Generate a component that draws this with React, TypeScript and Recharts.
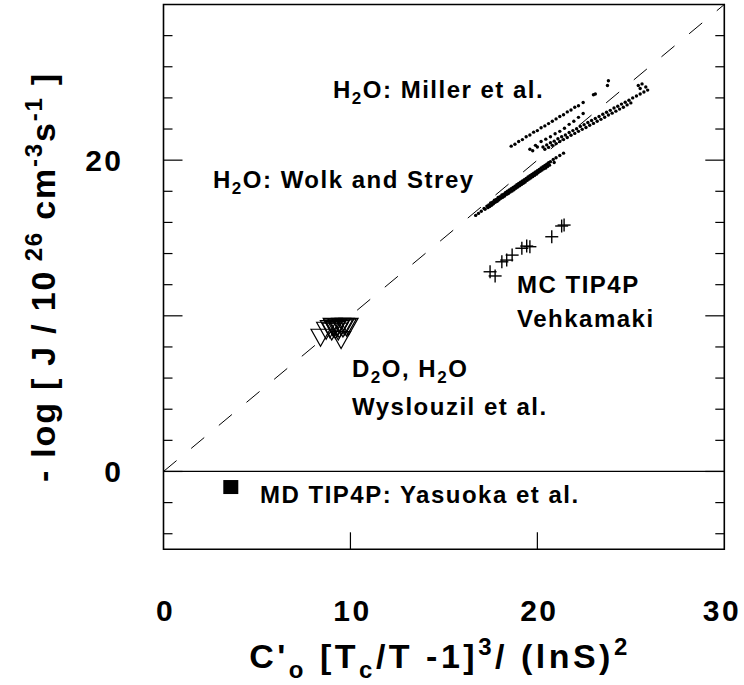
import React from 'react';
import { ScatterChart, Scatter, XAxis, YAxis, ReferenceLine, ReferenceArea } from 'recharts';

const FONT = '"Liberation Sans", Arial, Helvetica, sans-serif';

const xTicks = [0, 10, 20, 30];
const xTickLines = [10, 20];
const yTicks = [-4, -2, 0, 2, 4, 6, 8, 10, 12, 14, 16, 18, 20, 22, 24, 26, 28];
const yTickLabels = [0, 20];

// H2O: Miller et al. (three bands of small dots)
const millerUpper: [number, number][] = [
  [18.6, 20.9], [18.8, 21.02], [19.0, 21.2], [19.2, 21.32], [19.4, 21.5], [19.6, 21.62],
  [19.8, 21.8], [20.0, 21.9], [20.2, 22.08], [20.4, 22.2], [20.6, 22.35], [20.8, 22.5],
  [21.0, 22.65], [21.2, 22.8], [21.4, 22.92], [21.6, 23.1], [21.8, 23.22], [22.0, 23.4],
  [22.2, 23.5], [22.45, 23.7], [23.0, 24.2], [23.1, 24.25], [23.75, 24.8], [23.8, 25.1],
];
const millerMiddle: [number, number][] = [
  [19.6, 20.7], [19.75, 20.6], [19.9, 20.95], [20.0, 20.85], [20.2, 21.2], [20.45, 21.35],
  [20.7, 21.5], [20.95, 21.7], [21.2, 21.85], [21.45, 22.05], [21.7, 22.3], [21.95, 22.5],
  [22.2, 22.75], [22.45, 23.0],
];
const millerLower: [number, number][] = [
  [20.3, 20.85], [20.5, 20.98], [20.7, 21.12], [20.9, 21.22], [21.1, 21.38], [21.3, 21.5],
  [21.5, 21.62], [21.7, 21.78], [21.9, 21.9], [22.1, 22.02], [22.3, 22.17], [22.5, 22.28],
  [22.7, 22.42], [22.9, 22.55], [23.1, 22.68], [23.3, 22.8], [23.5, 22.95], [23.7, 23.08],
  [23.9, 23.2], [24.1, 23.35], [24.3, 23.46], [24.5, 23.6], [24.7, 23.72], [24.9, 23.85],
  [25.1, 24.0], [25.3, 24.12], [25.5, 24.25], [25.7, 24.38], [25.9, 24.5],
  [20.4, 20.7], [20.6, 20.82], [20.8, 20.95], [21.0, 21.06], [21.2, 21.2], [21.4, 21.32],
  [21.6, 21.46], [21.8, 21.6], [22.0, 21.72], [22.2, 21.85], [22.4, 21.98], [22.6, 22.1],
  [22.8, 22.24], [23.0, 22.36], [23.2, 22.5], [23.4, 22.62], [23.6, 22.76], [23.8, 22.9],
  [24.0, 23.02], [24.2, 23.15], [24.4, 23.28], [24.6, 23.4], [24.8, 23.55], [25.0, 23.68],
  [25.4, 24.8], [25.5, 24.6], [25.6, 24.9], [25.8, 24.7],
];

// H2O: Wolk and Strey
const wolkStrey: [number, number][] = [
  [16.7, 16.45], [16.85, 16.58], [17.0, 16.72], [17.15, 16.9], [17.3, 17.05], [17.4, 17.12],
  [17.5, 17.25], [17.6, 17.3], [17.7, 17.42], [17.8, 17.48], [17.9, 17.6], [18.0, 17.66],
  [18.1, 17.76], [18.2, 17.82], [18.3, 17.92], [18.4, 18.0], [18.5, 18.08], [18.6, 18.16],
  [18.7, 18.25], [18.8, 18.33], [18.9, 18.42], [19.0, 18.5], [19.1, 18.58], [19.2, 18.66],
  [19.3, 18.75], [19.4, 18.82], [19.5, 18.92], [19.6, 19.0], [19.7, 19.08], [19.8, 19.16],
  [19.9, 19.24], [20.0, 19.32], [20.1, 19.4], [20.2, 19.5], [20.3, 19.58], [20.4, 19.66],
  [20.5, 19.74], [20.6, 19.84], [20.7, 19.9], [20.85, 20.05], [21.0, 20.15], [21.2, 20.3],
  [21.4, 20.45],
  [17.2, 16.85], [17.35, 16.95], [17.45, 17.02], [17.55, 17.1], [17.65, 17.2], [17.75, 17.3],
  [17.85, 17.36], [17.95, 17.45], [18.05, 17.55], [18.15, 17.62], [18.25, 17.7], [18.35, 17.8],
  [18.45, 17.86], [18.55, 17.95], [18.65, 18.02], [18.75, 18.1], [18.85, 18.2], [18.95, 18.28],
  [19.05, 18.36], [19.15, 18.44], [19.25, 18.52], [19.35, 18.6], [19.45, 18.7], [19.55, 18.78],
  [19.65, 18.86], [19.75, 18.94], [19.85, 19.02], [19.95, 19.1], [20.05, 19.2], [20.15, 19.28],
  [20.25, 19.36], [20.35, 19.44], [20.45, 19.5], [20.55, 19.6], [20.65, 19.68], [20.9, 19.85],
];

// MC TIP4P Vehkamaki
const vehkamaki: [number, number][] = [
  [17.47, 12.83], [17.74, 12.56], [18.1, 13.47], [18.36, 13.58], [18.65, 13.9], [19.17, 14.34],
  [19.43, 14.48], [19.6, 14.44], [20.77, 15.08], [21.3, 15.77], [21.43, 15.83],
];

// D2O, H2O Wyslouzil et al.
const wyslouzil: [number, number][] = [
  [8.4, 8.75], [9.5, 8.6], [8.7, 9.2], [8.9, 9.3], [9.0, 9.15], [9.1, 9.35], [9.2, 9.25],
  [9.3, 9.4], [9.4, 9.3], [9.5, 9.45], [9.6, 9.35], [9.7, 9.45], [9.8, 9.4], [9.9, 9.45],
  [9.05, 9.45], [9.35, 9.15],
];

// MD TIP4P: Yasuoka et al.
const yasuoka: [number, number][] = [[3.6, -1.0]];

const toPoints = (arr: [number, number][]) => arr.map(([x, y]) => ({ x, y }));

const CHART_W = 744;
const CHART_H = 685;
const PLOT_W = 560.8;

const Dot = (props: any) => <circle cx={props.cx} cy={props.cy} r={1.7} fill="#000" />;

const Cross = (props: any) => {
  const { cx, cy } = props;
  const s = 6.5;
  return (
    <g stroke="#000" strokeWidth={1.4}>
      <line x1={cx - s} x2={cx + s} y1={cy} y2={cy} />
      <line x1={cx} x2={cx} y1={cy - s} y2={cy + s} />
    </g>
  );
};

const DownTriangle = (props: any) => {
  const { cx, cy } = props;
  const pts = `${cx - 9.5},${cy - 6} ${cx + 9.5},${cy - 6} ${cx},${cy + 11}`;
  return <polygon points={pts} fill="none" stroke="#000" strokeWidth={1.2} />;
};

const Square = (props: any) => {
  const { cx, cy } = props;
  return <rect x={cx - 7.5} y={cy - 7} width={15} height={14} fill="#000" />;
};

const YTick = (props: any) => {
  const { x, y, payload } = props;
  const v = payload.value;
  const len = v % 10 === 0 ? 19 : 9;
  return (
    <g>
      <line x1={x} x2={x + len} y1={y} y2={y} stroke="#000" strokeWidth={1.2} />
      <line x1={x + PLOT_W} x2={x + PLOT_W - len} y1={y} y2={y} stroke="#000" strokeWidth={1.2} />
      {yTickLabels.includes(v) && (
        <text x={x - 40} y={y + 11} textAnchor="end" fontFamily={FONT} fontWeight="bold" fontSize={30} letterSpacing={2.5} fill="#000">
          {v}
        </text>
      )}
    </g>
  );
};

const XTick = (props: any) => {
  const { x, y, payload } = props;
  const v = payload.value;
  return (
    <g>
      {xTickLines.includes(v) && <line x1={x} x2={x} y1={y} y2={y - 17} stroke="#000" strokeWidth={1.2} />}
      <text x={Math.min(x + 2, 722)} y={y + 72} textAnchor="middle" fontFamily={FONT} fontWeight="bold" fontSize={30} letterSpacing={2.5} fill="#000">
        {v}
      </text>
    </g>
  );
};

const labelStyle = { fontFamily: FONT, fontWeight: 'bold' as const, fontSize: 24, letterSpacing: 1.5, fill: '#000' };

const App: React.FC = () => {
  return (
    <div style={{ position: 'absolute', left: 0, top: 0, width: CHART_W, height: CHART_H, background: '#fff' }}>
      <ScatterChart width={CHART_W} height={CHART_H} margin={{ top: 4.5, right: 19.7, left: 0, bottom: 0 }}>
        <XAxis
          type="number"
          dataKey="x"
          domain={[0, 30]}
          ticks={xTicks}
          interval={0}
          height={135.7}
          axisLine={false}
          tickLine={false}
          tickSize={0}
          tickMargin={0}
          tick={<XTick />}
        />
        <YAxis
          type="number"
          dataKey="y"
          domain={[-5, 30]}
          ticks={yTicks}
          interval={0}
          width={163.5}
          axisLine={false}
          tickLine={false}
          tickSize={0}
          tickMargin={0}
          tick={<YTick />}
        />
        <ReferenceArea x1={0} x2={30} y1={-5} y2={30} fill="none" stroke="#000" strokeWidth={1.6} />
        <ReferenceLine y={0} stroke="#000" strokeWidth={1.2} />
        <ReferenceLine segment={[{ x: 0, y: 0 }, { x: 30, y: 30 }]} stroke="#000" strokeWidth={1} strokeDasharray="17 19" />
        <Scatter data={toPoints(millerUpper)} shape={<Dot />} isAnimationActive={false} />
        <Scatter data={toPoints(millerMiddle)} shape={<Dot />} isAnimationActive={false} />
        <Scatter data={toPoints(millerLower)} shape={<Dot />} isAnimationActive={false} />
        <Scatter data={toPoints(wolkStrey)} shape={<Dot />} isAnimationActive={false} />
        <Scatter data={toPoints(vehkamaki)} shape={<Cross />} isAnimationActive={false} />
        <Scatter data={toPoints(wyslouzil)} shape={<DownTriangle />} isAnimationActive={false} />
        <Scatter data={toPoints(yasuoka)} shape={<Square />} isAnimationActive={false} />
      </ScatterChart>
      <svg width={CHART_W} height={CHART_H} style={{ position: 'absolute', left: 0, top: 0, pointerEvents: 'none' }}>
        <text x={333} y={98} {...labelStyle}>
          H<tspan dy={6} fontSize={17}>2</tspan><tspan dy={-6}>O: Miller et al.</tspan>
        </text>
        <text x={213} y={188} {...labelStyle}>
          H<tspan dy={6} fontSize={17}>2</tspan><tspan dy={-6}>O: Wolk and Strey</tspan>
        </text>
        <text x={517} y={293} {...labelStyle}>MC TIP4P</text>
        <text x={517} y={327} {...labelStyle}>Vehkamaki</text>
        <text x={352} y={377} {...labelStyle}>
          D<tspan dy={6} fontSize={17}>2</tspan><tspan dy={-6}>O, H</tspan><tspan dy={6} fontSize={17}>2</tspan><tspan dy={-6}>O</tspan>
        </text>
        <text x={352} y={415} {...labelStyle}>Wyslouzil et al.</text>
        <text x={260} y={503} {...labelStyle}>MD TIP4P: Yasuoka et al.</text>

        <text x={440} y={668} textAnchor="middle" fontFamily={FONT} fontWeight="bold" fontSize={34} letterSpacing={3.5} fill="#000">
          C'<tspan dy={10} fontSize={24}>o</tspan><tspan dy={-10}> [T</tspan><tspan dy={10} fontSize={24}>c</tspan><tspan dy={-10}>/T -1]</tspan><tspan dy={-13} fontSize={24}>3</tspan><tspan dy={13}>/ (lnS)</tspan><tspan dy={-13} fontSize={24}>2</tspan>
        </text>

        <text transform="translate(55,277) rotate(-90)" x={0} y={0} textAnchor="middle" fontFamily={FONT} fontWeight="bold" fontSize={34} letterSpacing={1.8} fill="#000">
          - log [  J / 10<tspan dy={-13} fontSize={24}> 26</tspan><tspan dy={13}> cm</tspan><tspan dy={-13} fontSize={24}>-3</tspan><tspan dy={13}>s</tspan><tspan dy={-13} fontSize={24}>-1</tspan><tspan dy={13}> ]</tspan>
        </text>
      </svg>
    </div>
  );
};

export default App;
